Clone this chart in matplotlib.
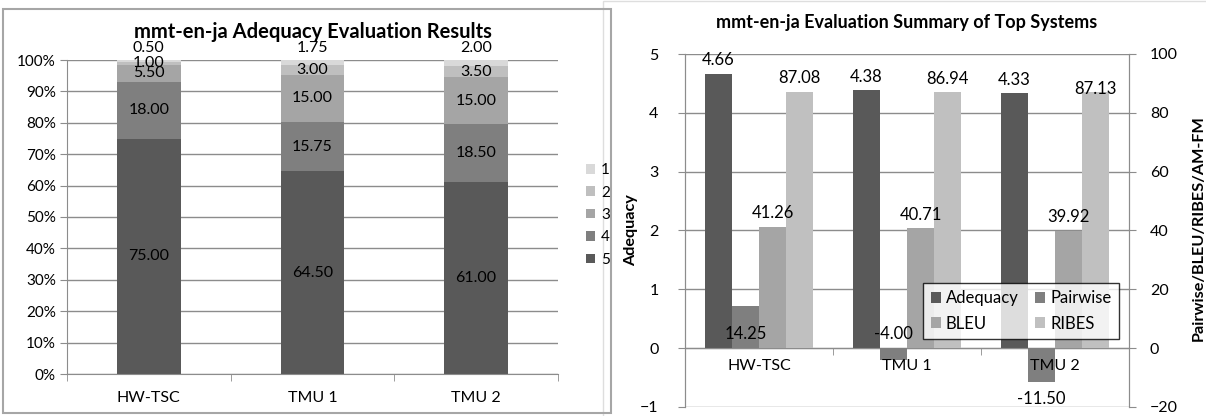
import matplotlib.pyplot as plt
import numpy as np
from matplotlib.patches import Rectangle

plt.rcParams["font.family"] = ["Lato", "DejaVu Sans"]

# Adequacy score shares (%) per system, one list per score level
systems = ["HW-TSC", "TMU 1", "TMU 2"]
score_levels = ["5", "4", "3", "2", "1"]
share_5 = [75.00, 64.50, 61.00]
share_4 = [18.00, 15.75, 18.50]
share_3 = [5.50, 15.00, 15.00]
share_2 = [1.00, 3.00, 3.50]
share_1 = [0.50, 1.75, 2.00]
stack_colors = ["#595959", "#7f7f7f", "#a5a5a5", "#bfbfbf", "#d9d9d9"]

# Summary metrics of the top systems
adequacy = [4.66, 4.38, 4.33]
pairwise = [14.25, -4.00, -11.50]
bleu = [41.26, 40.71, 39.92]
ribes = [87.08, 86.94, 87.13]
metric_names = ["Adequacy", "Pairwise", "BLEU", "RIBES"]
metric_colors = ["#595959", "#7f7f7f", "#a5a5a5", "#c0c0c0"]

W, H = 1206, 416
fig = plt.figure(figsize=(W / 100, H / 100), dpi=100)
grid_color = "#8c8c8c"


def px_axes(x0, y0, x1, y1):
    # axes from pixel box (top-left origin)
    return fig.add_axes([x0 / W, 1 - y1 / H, (x1 - x0) / W, (y1 - y0) / H])


def px_rect(x0, y0, x1, y1, color, lw):
    fig.patches.append(Rectangle((x0 / W, 1 - y1 / H), (x1 - x0) / W, (y1 - y0) / H,
                                 transform=fig.transFigure, fill=False,
                                 edgecolor=color, linewidth=lw))


# chart frames
px_rect(603, 1, 1210, 420, "#dedede", 1)
px_rect(3, 9, 611, 413, "#a6a6a6", 1.5)

# ---- left: stacked 100% bars ----
ax = px_axes(67, 60, 558, 374)
x = np.arange(len(systems))
width = 0.39
stack = [share_5, share_4, share_3, share_2, share_1]
bottom = np.zeros(len(systems))
handles = []
for level, vals, color in zip(score_levels, stack, stack_colors):
    vals = np.array(vals)
    b = ax.bar(x, vals, width, bottom=bottom, color=color, label=level, zorder=2)
    handles.append(b)
    for xi, v, b0 in zip(x, vals, bottom):
        if level == "1":
            ax.text(xi, 100 + 3.8, f"{v:.2f}", ha="center", va="center",
                    fontsize=11.5, zorder=3, clip_on=False)
        else:
            ax.text(xi, b0 + v / 2, f"{v:.2f}", ha="center", va="center",
                    fontsize=11.5, zorder=3)
    bottom += vals

ax.set_xlim(-0.5, len(systems) - 0.5)
ax.set_ylim(0, 100)
ax.set_yticks(np.arange(0, 101, 10))
ax.set_yticklabels([f"{t}%" for t in range(0, 101, 10)], fontsize=11)
ax.set_xticks(x)
ax.set_xticklabels(systems, fontsize=11.5)
ax.set_xticks(np.arange(-0.5, len(systems), 1), minor=True)
ax.tick_params(axis="x", which="major", length=0, pad=12)
ax.tick_params(axis="x", which="minor", length=5, color=grid_color, direction="out")
ax.tick_params(axis="y", length=5, color=grid_color, pad=3)
ax.grid(axis="y", color=grid_color, linewidth=1, zorder=0)
ax.set_axisbelow(True)
for s in ["top", "right"]:
    ax.spines[s].set_visible(False)
for s in ["left", "bottom"]:
    ax.spines[s].set_color(grid_color)
ax.set_title("mmt-en-ja Adequacy Evaluation Results", fontsize=14.5,
             fontweight="bold", pad=16)

fig.legend(handles[::-1], score_levels[::-1], loc="center left",
           bbox_to_anchor=(572 / W, 1 - 215 / H), frameon=False, fontsize=11,
           handlelength=0.6, handleheight=0.6, handletextpad=0.4,
           labelspacing=0.55)

# ---- right: grouped bars on two axes ----
axl = px_axes(685, 54, 1129, 407)
axr = axl.twinx()
gw = 0.182
offsets = np.array([-1.5, -0.5, 0.5, 1.5]) * gw

b_adq = axl.bar(x + offsets[0], adequacy, gw, color=metric_colors[0], zorder=2)
b_pw = axr.bar(x + offsets[1], pairwise, gw, color=metric_colors[1], zorder=2)
b_bl = axr.bar(x + offsets[2], bleu, gw, color=metric_colors[2], zorder=2)
b_rb = axr.bar(x + offsets[3], ribes, gw, color=metric_colors[3], zorder=2)

lab = dict(ha="center", fontsize=12, textcoords="offset points")
for xi, v in zip(x + offsets[0], adequacy):
    axl.annotate(f"{v:.2f}", (xi, v), xytext=(0, 4), va="bottom", **lab)
for xi, v in zip(x + offsets[2], bleu):
    axr.annotate(f"{v:.2f}", (xi, v), xytext=(0, 4), va="bottom", **lab)
for xi, v in zip(x + offsets[3], ribes):
    axr.annotate(f"{v:.2f}", (xi, v), xytext=(0, 4 if v < 87.1 else -4),
                 va="bottom", **lab)
for xi, v in zip(x + offsets[1], pairwise):
    if v > -10:
        axr.annotate(f"{v:.2f}", (xi, 0), xytext=(0, 10), va="center", **lab)
    else:
        axr.annotate(f"{v:.2f}", (xi, v), xytext=(0, -12), va="center", **lab)

axl.set_xlim(-0.5, len(systems) - 0.5)
axl.set_ylim(-1, 5)
axr.set_ylim(-20, 100)
axl.set_yticks(range(-1, 6))
axr.set_yticks(range(-20, 101, 20))
axl.tick_params(axis="y", labelsize=11.5, length=5, color=grid_color, pad=14)
axr.tick_params(axis="y", labelsize=11.5, length=5, color=grid_color, pad=10)
axl.grid(axis="y", color=grid_color, linewidth=1, zorder=0)
axl.set_axisbelow(True)

axl.spines["bottom"].set_position(("data", 0))
axl.set_xticks(np.arange(-0.5, len(systems), 1), minor=True)
axl.set_xticks(x)
axl.set_xticklabels([])
axl.tick_params(axis="x", which="major", length=0)
axl.tick_params(axis="x", which="minor", length=5, color=grid_color)
for xi, name in zip(x, systems):
    axr.annotate(name, (xi, 0), xytext=(0, -13), textcoords="offset points",
                 ha="center", va="center", fontsize=11.5, zorder=5)

for a in (axl, axr):
    a.spines["top"].set_visible(False)
    a.spines["left"].set_color(grid_color)
    a.spines["right"].set_color(grid_color)
    a.spines["bottom"].set_color(grid_color)
axr.spines["bottom"].set_visible(False)

axl.set_ylabel("Adequacy", fontsize=11.7, fontweight="bold")
axl.yaxis.set_label_coords((638 - 685) / 444, (407 - 230) / 353)
axr.set_ylabel("Pairwise/BLEU/RIBES/AM-FM", fontsize=11.7, fontweight="bold")
axr.yaxis.set_label_coords((1192 - 685) / 444, (407 - 228) / 353)
axl.set_title("mmt-en-ja Evaluation Summary of Top Systems", fontsize=13,
              fontweight="bold", pad=19)

# two rows: Adequacy/Pairwise, BLEU/RIBES
leg = axr.legend([b_adq, b_bl, b_pw, b_rb],
                 [metric_names[0], metric_names[2], metric_names[1], metric_names[3]],
                 ncol=2, loc="upper left", bbox_to_anchor=((923 - 685) / 444, (407 - 283) / 353),
                 fontsize=12, frameon=True, fancybox=False, edgecolor="black",
                 handlelength=0.6, handleheight=0.6, handletextpad=0.3,
                 columnspacing=1.0, labelspacing=0.55, borderpad=0.45,
                 borderaxespad=0)
leg.get_frame().set_linewidth(1)
leg.set_zorder(10)

fig.savefig("out.png", dpi=100)
